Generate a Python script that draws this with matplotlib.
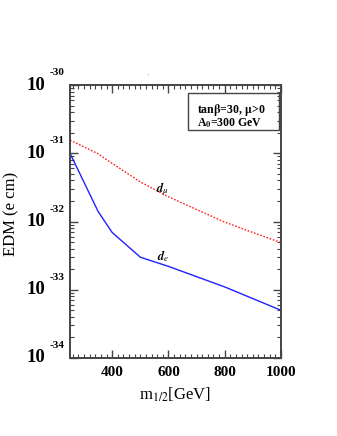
import matplotlib
matplotlib.use("Agg")
import matplotlib.pyplot as plt
from matplotlib.ticker import MultipleLocator, LogLocator, NullFormatter
from matplotlib.transforms import blended_transform_factory
from matplotlib.patches import Rectangle
import numpy as np

plt.rcParams['font.family'] = ['Liberation Serif', 'DejaVu Serif']
plt.rcParams['mathtext.fontset'] = 'stix'

# data
m_mu = [250, 350, 400, 500, 600, 700, 800, 900, 1000]
edm_mu = [1.56e-31, 9.8e-32, 7.1e-32, 3.8e-32, 2.3e-32, 1.5e-32, 9.8e-33, 6.9e-33, 4.9e-33]
m_e = [250, 350, 400, 500, 600, 800, 1000]
edm_e = [1.0e-31, 1.4e-32, 6.9e-33, 3.0e-33, 2.2e-33, 1.1e-33, 5.0e-34]
xticks = [400, 600, 800, 1000]
ydecades = [-30, -31, -32, -33, -34]

fig = plt.figure(figsize=(3.37, 4.36), dpi=100)
ax = fig.add_axes([0.2077, 0.1789, 0.6261, 0.6261])
ax.set_yscale('log')
ax.set_xlim(250, 1000)
ax.set_ylim(1e-34, 1e-30)

ax.plot(m_mu, edm_mu, color='#ff2020', lw=1.0, linestyle=(0, (1.2, 1.2)))
ax.plot(m_e, edm_e, color='#2020ff', lw=1.0)

for s in ax.spines.values():
    s.set_linewidth(1.4)
    s.set_color('#444444')

ax.set_xticks(xticks)
ax.xaxis.set_minor_locator(MultipleLocator(20))
ax.yaxis.set_major_locator(LogLocator(base=10, numticks=10))
ax.yaxis.set_minor_locator(LogLocator(base=10, subs=np.arange(2, 10), numticks=20))
ax.yaxis.set_minor_formatter(NullFormatter())
ax.tick_params(which='both', direction='in', top=True, right=True, color='#444444')
ax.tick_params(which='major', length=6, width=1.0)
ax.tick_params(which='minor', length=3, width=0.8)
ax.set_xticklabels([str(v) for v in xticks], fontsize=11, fontweight='bold')
ax.tick_params(axis='x', pad=6)
ax.set_yticklabels([])

tr = blended_transform_factory(ax.transAxes, ax.transData)
for d in ydecades:
    ax.text(-0.115, 10.0**d, '10', transform=tr, ha='right', va='center',
            fontsize=13.5, fontweight='bold')
    ax.text(-0.095, 10.0**(d + 0.18), str(d), transform=tr, ha='left', va='center',
            fontsize=8, fontweight='bold')

fig.text(0.033, 0.51, 'EDM (e cm)', rotation=90, ha='center', va='center', fontsize=12)
fig.text(0.52, 0.094, r'm$_{1/2}$[GeV]', ha='center', va='center', fontsize=12)
fig.text(148 / 337, 1 - 73 / 436, '.', fontsize=4, ha='center', va='center')

# legend box
ax.add_patch(Rectangle((0.559, 0.835), 0.431, 0.136, transform=ax.transAxes,
                       fill=False, lw=1.0, edgecolor='#444444'))
ax.text(0.60, 0.91, r'tan$\mathbf{\beta}$=30, $\mathbf{\mu}$>0', transform=ax.transAxes,
        fontsize=8.5, fontweight='bold', va='center', ha='left')
ax.text(0.60, 0.86, r'A$_{\mathbf{0}}$=300 GeV', transform=ax.transAxes,
        fontsize=8.5, fontweight='bold', va='center', ha='left')

ax.text(580, 10**-31.53, r'$\boldsymbol{d}_{\mu}$', fontsize=9, ha='center', va='center')
ax.text(580, 10**-32.5, r'$\boldsymbol{d}_{e}$', fontsize=9, ha='center', va='center')

fig.savefig('out.png', dpi=100)
